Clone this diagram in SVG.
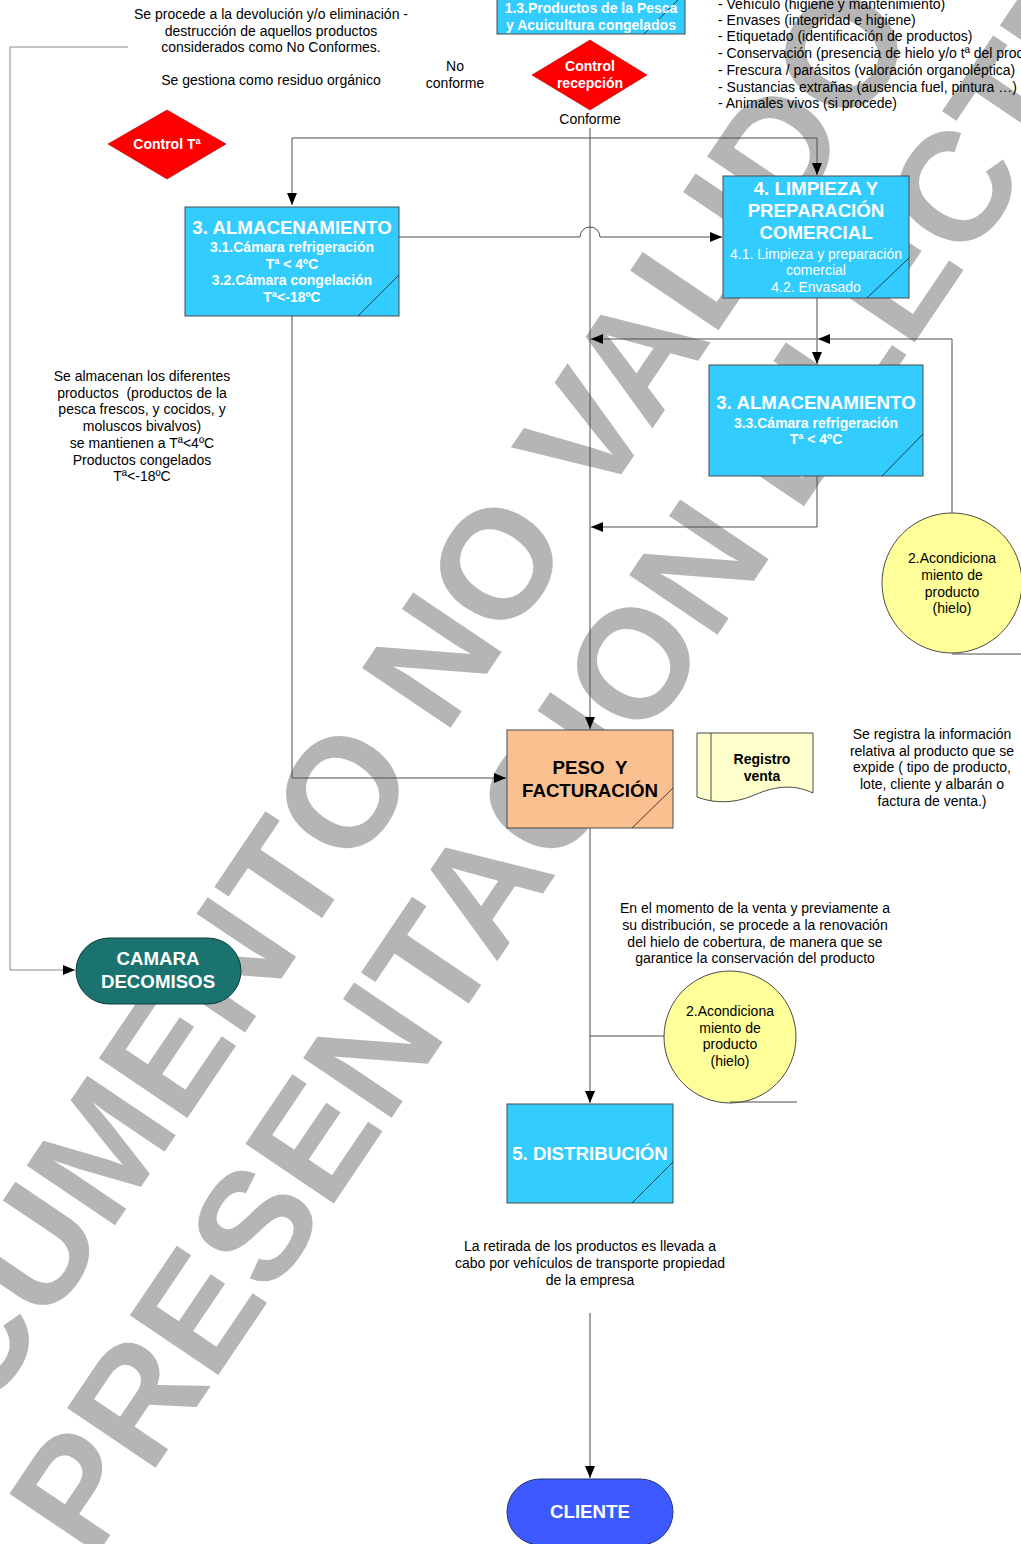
<svg xmlns="http://www.w3.org/2000/svg" width="1021" height="1544" viewBox="0 0 1021 1544">
<defs>
<style>
.t{font-family:"Liberation Sans",Arial,sans-serif;font-size:14px;fill:#000;text-anchor:middle}
.tl{font-family:"Liberation Sans",Arial,sans-serif;font-size:14px;fill:#000;text-anchor:start}
.w13{font-family:"Liberation Sans",Arial,sans-serif;font-size:14px;font-weight:bold;fill:#fff;text-anchor:middle}
.w13n{font-family:"Liberation Sans",Arial,sans-serif;font-size:14px;fill:#fff;text-anchor:middle}
.w18{font-family:"Liberation Sans",Arial,sans-serif;font-size:18.7px;font-weight:bold;fill:#fff;text-anchor:middle}
.b18{font-family:"Liberation Sans",Arial,sans-serif;font-size:18.7px;font-weight:bold;fill:#000;text-anchor:middle}
.b13{font-family:"Liberation Sans",Arial,sans-serif;font-size:14px;font-weight:bold;fill:#000;text-anchor:middle}
.wm{font-family:"Liberation Sans",Arial,sans-serif;font-size:155px;font-weight:bold;fill:#b5b5b5}
.box{stroke:#4a4a4a;stroke-width:1}
.blue{fill:#33CCFF}
.diag{stroke:#1a1a1a;stroke-width:0.8;fill:none}
.con{stroke:#4d4d4d;stroke-width:1;fill:none}
.conl{stroke:#8a8a8a;stroke-width:1;fill:none}
</style>
<marker id="arr" viewBox="0 0 12 10" refX="12" refY="5" markerWidth="12" markerHeight="10" markerUnits="userSpaceOnUse" orient="auto">
<path d="M0,0 L12,5 L0,10 Z" fill="#000"/>
</marker>
</defs>
<rect width="1021" height="1544" fill="#fff"/>

<g id="watermark">
<text class="wm" transform="translate(-146,1612) rotate(-56)">DOCUMENTO NO VALIDO</text>
<text class="wm" transform="translate(92,1562) rotate(-56)">PRESENTACION ELECTRONICA</text>
</g>

<g id="connectors">
<path class="conl" d="M128,47 H10 V970 H75" marker-end="url(#arr)"/>
<path class="con" d="M590,128 V729" marker-end="url(#arr)"/>
<path class="con" d="M292,138 H817 V175" marker-end="url(#arr)"/>
<path class="con" d="M292,138 V205" marker-end="url(#arr)"/>
<path class="con" d="M399,237 H580 A10,10 0 0 1 600,237 H722" marker-end="url(#arr)"/>
<path class="con" d="M817,298 V364" marker-end="url(#arr)"/>
<path class="con" d="M817,339 H591" marker-end="url(#arr)"/>
<path class="con" d="M952,513 V339 H818" marker-end="url(#arr)"/>
<path class="con" d="M817,476 V527 H591" marker-end="url(#arr)"/>
<path class="con" d="M292,316 V778 H506" marker-end="url(#arr)"/>
<path class="con" d="M590,828 V1103" marker-end="url(#arr)"/>
<path class="con" d="M664,1036 H590"/>
<path class="con" d="M590,1313 V1478" marker-end="url(#arr)"/>
</g>

<g id="txt-devolucion">
<text class="t" x="271" y="19">Se procede a la devolución y/o eliminación -</text>
<text class="t" x="271" y="36">destrucción de aquellos productos</text>
<text class="t" x="271" y="52">considerados como No Conformes.</text>
<text class="t" x="271" y="85">Se gestiona como residuo orgánico</text>
</g>

<g id="txt-noconforme">
<text class="t" x="455" y="71">No</text>
<text class="t" x="455" y="88">conforme</text>
</g>

<g id="node-productos">
<rect class="box blue" x="497" y="-10" width="188" height="44"/>
<line class="diag" x1="644" y1="34" x2="685" y2="-7"/>
<text class="w13" x="591" y="13">1.3.Productos de la Pesca</text>
<text class="w13" x="591" y="30">y Acuicultura congelados</text>
</g>

<g id="node-control-recepcion">
<polygon points="590,40 647,75 590,110 532,75" fill="#FF0000" stroke="#b00000" stroke-width="0.6"/>
<text class="w13" x="590" y="71">Control</text>
<text class="w13" x="590" y="88">recepción</text>
</g>
<text class="t" x="590" y="124">Conforme</text>

<g id="txt-checklist">
<text class="tl" x="718" y="9">- Vehículo (higiene y mantenimiento)</text>
<text class="tl" x="718" y="25">- Envases (integridad e higiene)</text>
<text class="tl" x="718" y="41">- Etiquetado (identificación de productos)</text>
<text class="tl" x="718" y="58">- Conservación (presencia de hielo y/o tª del producto)</text>
<text class="tl" x="718" y="75">- Frescura / parásitos (valoración organoléptica)</text>
<text class="tl" x="718" y="92">- Sustancias extrañas (ausencia fuel, pintura …)</text>
<text class="tl" x="718" y="108">- Animales vivos (si procede)</text>
</g>

<g id="node-control-temp">
<polygon points="167,110 226,144 167,179 108,144" fill="#FF0000" stroke="#b00000" stroke-width="0.6"/>
<text class="w13" x="167" y="149">Control Tª</text>
</g>

<g id="node-almacenamiento1">
<rect class="box blue" x="185" y="207" width="214" height="109"/>
<line class="diag" x1="358" y1="316" x2="399" y2="275"/>
<text class="w18" x="292" y="234">3. ALMACENAMIENTO</text>
<text class="w13" x="292" y="252">3.1.Cámara refrigeración</text>
<text class="w13" x="292" y="269">Tª &lt; 4ºC</text>
<text class="w13" x="292" y="285">3.2.Cámara congelación</text>
<text class="w13" x="292" y="302">Tª&lt;-18ºC</text>
</g>

<g id="node-limpieza">
<rect class="box blue" x="723" y="176" width="186" height="122"/>
<line class="diag" x1="867" y1="298" x2="909" y2="258"/>
<text class="w18" x="816" y="195">4. LIMPIEZA Y</text>
<text class="w18" x="816" y="217">PREPARACIÓN</text>
<text class="w18" x="816" y="239">COMERCIAL</text>
<text class="w13n" x="816" y="259">4.1. Limpieza y preparación</text>
<text class="w13n" x="816" y="275">comercial</text>
<text class="w13n" x="816" y="292">4.2. Envasado</text>
</g>

<g id="node-almacenamiento2">
<rect class="box blue" x="709" y="365" width="214" height="111"/>
<line class="diag" x1="882" y1="476" x2="923" y2="434"/>
<text class="w18" x="816" y="409">3. ALMACENAMIENTO</text>
<text class="w13" x="816" y="428">3.3.Cámara refrigeración</text>
<text class="w13" x="816" y="444">Tª &lt; 4ºC</text>
</g>

<g id="node-acondicionamiento1">
<circle cx="952" cy="583" r="70" fill="#FFFF99" stroke="#4a4a4a" stroke-width="1"/>
<line class="con" x1="952" y1="654" x2="1021" y2="654"/>
<text class="t" x="952" y="563">2.Acondiciona</text>
<text class="t" x="952" y="580">miento de</text>
<text class="t" x="952" y="597">producto</text>
<text class="t" x="952" y="613">(hielo)</text>
</g>

<g id="txt-almacenan">
<text class="t" x="142" y="381">Se almacenan los diferentes</text>
<text class="t" x="142" y="398">productos &#160;(productos de la</text>
<text class="t" x="142" y="414">pesca frescos, y cocidos, y</text>
<text class="t" x="142" y="431">moluscos bivalvos)</text>
<text class="t" x="142" y="448">se mantienen a Tª&lt;4ºC</text>
<text class="t" x="142" y="465">Productos congelados</text>
<text class="t" x="142" y="481">Tª&lt;-18ºC</text>
</g>

<g id="node-peso">
<rect class="box" x="507" y="730" width="166" height="98" fill="#FAC090"/>
<line class="diag" x1="632" y1="828" x2="673" y2="788"/>
<text class="b18" x="590" y="774">PESO &#160;Y</text>
<text class="b18" x="590" y="797">FACTURACIÓN</text>
</g>

<g id="node-registro">
<path d="M697,733 H813 V793 C792,783 772,787 752,796 C735,803 715,804 697,797 Z" fill="#FFFFCC" stroke="#4a4a4a" stroke-width="1"/>
<line class="con" x1="711" y1="733" x2="711" y2="801"/>
<text class="b13" x="762" y="764">Registro</text>
<text class="b13" x="762" y="781">venta</text>
</g>

<g id="txt-registra">
<text class="t" x="932" y="739">Se registra la información</text>
<text class="t" x="932" y="756">relativa al producto que se</text>
<text class="t" x="932" y="772">expide ( tipo de producto,</text>
<text class="t" x="932" y="789">lote, cliente y albarán o</text>
<text class="t" x="932" y="806">factura de venta.)</text>
</g>

<g id="node-camara">
<rect x="76" y="938" width="165" height="66" rx="33" ry="33" fill="#1B7370" stroke="#0d3a38" stroke-width="1"/>
<text class="w18" x="158" y="965">CAMARA</text>
<text class="w18" x="158" y="988">DECOMISOS</text>
</g>

<g id="txt-momento">
<text class="t" x="755" y="913">En el momento de la venta y previamente a</text>
<text class="t" x="755" y="930">su distribución, se procede a la renovación</text>
<text class="t" x="755" y="947">del hielo de cobertura, de manera que se</text>
<text class="t" x="755" y="963">garantice la conservación del producto</text>
</g>

<g id="node-acondicionamiento2">
<circle cx="730" cy="1037" r="66" fill="#FFFF99" stroke="#4a4a4a" stroke-width="1"/>
<line class="con" x1="730" y1="1102" x2="797" y2="1102"/>
<text class="t" x="730" y="1016">2.Acondiciona</text>
<text class="t" x="730" y="1033">miento de</text>
<text class="t" x="730" y="1049">producto</text>
<text class="t" x="730" y="1066">(hielo)</text>
</g>

<g id="node-distribucion">
<rect class="box blue" x="507" y="1104" width="166" height="99"/>
<line class="diag" x1="632" y1="1203" x2="673" y2="1162"/>
<text class="w18" x="590" y="1160">5. DISTRIBUCIÓN</text>
</g>

<g id="txt-retirada">
<text class="t" x="590" y="1251">La retirada de los productos es llevada a</text>
<text class="t" x="590" y="1268">cabo por vehículos de transporte propiedad</text>
<text class="t" x="590" y="1285">de la empresa</text>
</g>

<g id="node-cliente">
<rect x="507" y="1479" width="166" height="66" rx="33" ry="33" fill="#3C5AFF" stroke="#22306e" stroke-width="1"/>
<text class="w18" x="590" y="1518">CLIENTE</text>
</g>
</svg>
